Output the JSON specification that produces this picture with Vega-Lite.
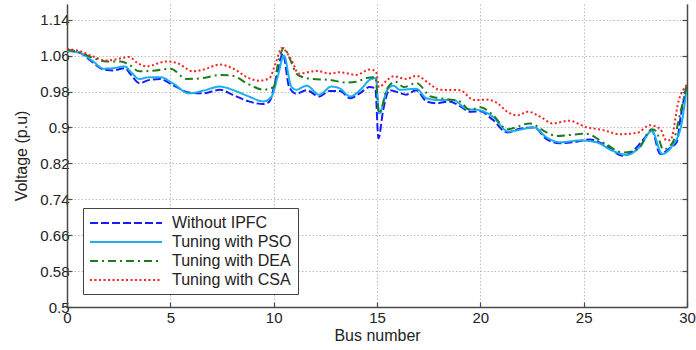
{
  "$schema": "https://vega.github.io/schema/vega-lite/v6.json",
  "width": 620,
  "height": 303,
  "autosize": {"type": "none"},
  "padding": {"left": 67, "top": 4, "right": 9, "bottom": 43},
  "background": "white",
  "config": {
    "font": "Liberation Sans",
    "view": {"stroke": null},
    "axis": {
      "labelFont": "Liberation Sans", "labelFontSize": 15, "labelColor": "#222222",
      "titleFont": "Liberation Sans", "titleFontSize": 16, "titleFontWeight": "normal", "titleColor": "#222222",
      "domainColor": "#4a4a4a", "domainWidth": 1.5, "tickColor": "#4a4a4a", "tickWidth": 1.2,
      "gridColor": "#bdbdbd", "gridDash": [1.5, 2], "gridWidth": 1
    },
    "legend": {
      "labelFont": "Liberation Sans", "labelFontSize": 16, "labelColor": "#222222"
    }
  },
  "data": {"values": [
    {"bus":0,"v":1.072,"s":"Without IPFC"},{"bus":0.63,"v":1.066,"s":"Without IPFC"},{"bus":1.27,"v":1.044,"s":"Without IPFC"},{"bus":1.76,"v":1.029,"s":"Without IPFC"},{"bus":2.24,"v":1.027,"s":"Without IPFC"},{"bus":2.8,"v":1.032,"s":"Without IPFC"},{"bus":3.1,"v":1.017,"s":"Without IPFC"},{"bus":3.5,"v":0.999,"s":"Without IPFC"},{"bus":4.0,"v":1.006,"s":"Without IPFC"},{"bus":4.5,"v":1.008,"s":"Without IPFC"},{"bus":5.1,"v":0.995,"s":"Without IPFC"},{"bus":5.9,"v":0.978,"s":"Without IPFC"},{"bus":6.6,"v":0.976,"s":"Without IPFC"},{"bus":7.4,"v":0.984,"s":"Without IPFC"},{"bus":8.0,"v":0.973,"s":"Without IPFC"},{"bus":8.8,"v":0.958,"s":"Without IPFC"},{"bus":9.5,"v":0.952,"s":"Without IPFC"},{"bus":9.8,"v":0.958,"s":"Without IPFC"},{"bus":10.1,"v":1.006,"s":"Without IPFC"},{"bus":10.45,"v":1.064,"s":"Without IPFC"},{"bus":10.75,"v":0.99,"s":"Without IPFC"},{"bus":11.1,"v":0.975,"s":"Without IPFC"},{"bus":11.6,"v":0.983,"s":"Without IPFC"},{"bus":12.2,"v":0.969,"s":"Without IPFC"},{"bus":12.7,"v":0.981,"s":"Without IPFC"},{"bus":13.2,"v":0.981,"s":"Without IPFC"},{"bus":13.7,"v":0.965,"s":"Without IPFC"},{"bus":14.2,"v":0.977,"s":"Without IPFC"},{"bus":14.65,"v":0.99,"s":"Without IPFC"},{"bus":14.92,"v":0.987,"s":"Without IPFC"},{"bus":15.07,"v":0.876,"s":"Without IPFC"},{"bus":15.3,"v":0.939,"s":"Without IPFC"},{"bus":15.6,"v":0.983,"s":"Without IPFC"},{"bus":16.1,"v":0.977,"s":"Without IPFC"},{"bus":16.4,"v":0.973,"s":"Without IPFC"},{"bus":16.9,"v":0.983,"s":"Without IPFC"},{"bus":17.4,"v":0.958,"s":"Without IPFC"},{"bus":17.9,"v":0.954,"s":"Without IPFC"},{"bus":18.5,"v":0.958,"s":"Without IPFC"},{"bus":19.0,"v":0.948,"s":"Without IPFC"},{"bus":19.5,"v":0.935,"s":"Without IPFC"},{"bus":20.0,"v":0.936,"s":"Without IPFC"},{"bus":20.6,"v":0.917,"s":"Without IPFC"},{"bus":21.3,"v":0.889,"s":"Without IPFC"},{"bus":21.9,"v":0.897,"s":"Without IPFC"},{"bus":22.6,"v":0.9,"s":"Without IPFC"},{"bus":23.2,"v":0.874,"s":"Without IPFC"},{"bus":23.85,"v":0.865,"s":"Without IPFC"},{"bus":24.5,"v":0.867,"s":"Without IPFC"},{"bus":25.3,"v":0.873,"s":"Without IPFC"},{"bus":26.1,"v":0.859,"s":"Without IPFC"},{"bus":26.9,"v":0.837,"s":"Without IPFC"},{"bus":27.4,"v":0.848,"s":"Without IPFC"},{"bus":27.9,"v":0.874,"s":"Without IPFC"},{"bus":28.3,"v":0.893,"s":"Without IPFC"},{"bus":28.7,"v":0.841,"s":"Without IPFC"},{"bus":29.2,"v":0.855,"s":"Without IPFC"},{"bus":29.5,"v":0.867,"s":"Without IPFC"},{"bus":29.7,"v":0.926,"s":"Without IPFC"},{"bus":30,"v":0.997,"s":"Without IPFC"},

    {"bus":0,"v":1.07,"s":"Tuning with PSO"},{"bus":0.63,"v":1.066,"s":"Tuning with PSO"},{"bus":1.27,"v":1.047,"s":"Tuning with PSO"},{"bus":1.76,"v":1.031,"s":"Tuning with PSO"},{"bus":2.24,"v":1.032,"s":"Tuning with PSO"},{"bus":2.8,"v":1.036,"s":"Tuning with PSO"},{"bus":3.1,"v":1.023,"s":"Tuning with PSO"},{"bus":3.5,"v":1.008,"s":"Tuning with PSO"},{"bus":4.0,"v":1.012,"s":"Tuning with PSO"},{"bus":4.5,"v":1.012,"s":"Tuning with PSO"},{"bus":5.1,"v":0.999,"s":"Tuning with PSO"},{"bus":5.9,"v":0.976,"s":"Tuning with PSO"},{"bus":6.6,"v":0.982,"s":"Tuning with PSO"},{"bus":7.4,"v":0.991,"s":"Tuning with PSO"},{"bus":8.0,"v":0.984,"s":"Tuning with PSO"},{"bus":8.8,"v":0.969,"s":"Tuning with PSO"},{"bus":9.5,"v":0.958,"s":"Tuning with PSO"},{"bus":9.9,"v":0.969,"s":"Tuning with PSO"},{"bus":10.2,"v":1.014,"s":"Tuning with PSO"},{"bus":10.5,"v":1.06,"s":"Tuning with PSO"},{"bus":10.85,"v":0.991,"s":"Tuning with PSO"},{"bus":11.1,"v":0.984,"s":"Tuning with PSO"},{"bus":11.6,"v":0.993,"s":"Tuning with PSO"},{"bus":12.2,"v":0.973,"s":"Tuning with PSO"},{"bus":12.8,"v":0.991,"s":"Tuning with PSO"},{"bus":13.2,"v":0.987,"s":"Tuning with PSO"},{"bus":13.7,"v":0.969,"s":"Tuning with PSO"},{"bus":14.2,"v":0.984,"s":"Tuning with PSO"},{"bus":14.65,"v":1.006,"s":"Tuning with PSO"},{"bus":14.95,"v":1.01,"s":"Tuning with PSO"},{"bus":15.1,"v":0.931,"s":"Tuning with PSO"},{"bus":15.5,"v":0.984,"s":"Tuning with PSO"},{"bus":15.8,"v":0.993,"s":"Tuning with PSO"},{"bus":16.1,"v":0.984,"s":"Tuning with PSO"},{"bus":16.9,"v":0.986,"s":"Tuning with PSO"},{"bus":17.4,"v":0.965,"s":"Tuning with PSO"},{"bus":18.0,"v":0.961,"s":"Tuning with PSO"},{"bus":18.7,"v":0.961,"s":"Tuning with PSO"},{"bus":19.3,"v":0.942,"s":"Tuning with PSO"},{"bus":20.0,"v":0.938,"s":"Tuning with PSO"},{"bus":20.6,"v":0.924,"s":"Tuning with PSO"},{"bus":21.35,"v":0.891,"s":"Tuning with PSO"},{"bus":22.6,"v":0.9,"s":"Tuning with PSO"},{"bus":23.2,"v":0.878,"s":"Tuning with PSO"},{"bus":23.85,"v":0.867,"s":"Tuning with PSO"},{"bus":24.8,"v":0.871,"s":"Tuning with PSO"},{"bus":25.6,"v":0.867,"s":"Tuning with PSO"},{"bus":26.4,"v":0.848,"s":"Tuning with PSO"},{"bus":27.1,"v":0.839,"s":"Tuning with PSO"},{"bus":27.7,"v":0.856,"s":"Tuning with PSO"},{"bus":28.3,"v":0.892,"s":"Tuning with PSO"},{"bus":28.8,"v":0.841,"s":"Tuning with PSO"},{"bus":29.3,"v":0.86,"s":"Tuning with PSO"},{"bus":29.7,"v":0.9,"s":"Tuning with PSO"},{"bus":30,"v":0.995,"s":"Tuning with PSO"},

    {"bus":0,"v":1.073,"s":"Tuning with DEA"},{"bus":0.63,"v":1.067,"s":"Tuning with DEA"},{"bus":1.27,"v":1.055,"s":"Tuning with DEA"},{"bus":1.9,"v":1.047,"s":"Tuning with DEA"},{"bus":2.6,"v":1.047,"s":"Tuning with DEA"},{"bus":3.0,"v":1.04,"s":"Tuning with DEA"},{"bus":3.5,"v":1.025,"s":"Tuning with DEA"},{"bus":4.3,"v":1.027,"s":"Tuning with DEA"},{"bus":5.0,"v":1.031,"s":"Tuning with DEA"},{"bus":5.8,"v":1.008,"s":"Tuning with DEA"},{"bus":6.6,"v":1.01,"s":"Tuning with DEA"},{"bus":7.4,"v":1.017,"s":"Tuning with DEA"},{"bus":8.0,"v":1.015,"s":"Tuning with DEA"},{"bus":8.8,"v":0.996,"s":"Tuning with DEA"},{"bus":9.5,"v":0.984,"s":"Tuning with DEA"},{"bus":10.0,"v":0.99,"s":"Tuning with DEA"},{"bus":10.2,"v":1.04,"s":"Tuning with DEA"},{"bus":10.5,"v":1.077,"s":"Tuning with DEA"},{"bus":10.8,"v":1.051,"s":"Tuning with DEA"},{"bus":11.1,"v":1.02,"s":"Tuning with DEA"},{"bus":11.3,"v":1.014,"s":"Tuning with DEA"},{"bus":11.9,"v":1.008,"s":"Tuning with DEA"},{"bus":12.7,"v":1.006,"s":"Tuning with DEA"},{"bus":13.5,"v":1.0,"s":"Tuning with DEA"},{"bus":14.0,"v":1.002,"s":"Tuning with DEA"},{"bus":14.5,"v":1.01,"s":"Tuning with DEA"},{"bus":14.92,"v":1.012,"s":"Tuning with DEA"},{"bus":15.1,"v":0.931,"s":"Tuning with DEA"},{"bus":15.5,"v":0.987,"s":"Tuning with DEA"},{"bus":15.9,"v":1.002,"s":"Tuning with DEA"},{"bus":16.3,"v":0.99,"s":"Tuning with DEA"},{"bus":16.9,"v":0.999,"s":"Tuning with DEA"},{"bus":17.6,"v":0.969,"s":"Tuning with DEA"},{"bus":18.4,"v":0.963,"s":"Tuning with DEA"},{"bus":19.0,"v":0.958,"s":"Tuning with DEA"},{"bus":19.5,"v":0.939,"s":"Tuning with DEA"},{"bus":20.0,"v":0.945,"s":"Tuning with DEA"},{"bus":20.6,"v":0.928,"s":"Tuning with DEA"},{"bus":21.3,"v":0.896,"s":"Tuning with DEA"},{"bus":22.4,"v":0.909,"s":"Tuning with DEA"},{"bus":23.2,"v":0.889,"s":"Tuning with DEA"},{"bus":23.7,"v":0.881,"s":"Tuning with DEA"},{"bus":24.3,"v":0.883,"s":"Tuning with DEA"},{"bus":25.1,"v":0.886,"s":"Tuning with DEA"},{"bus":26.1,"v":0.862,"s":"Tuning with DEA"},{"bus":26.9,"v":0.844,"s":"Tuning with DEA"},{"bus":27.6,"v":0.851,"s":"Tuning with DEA"},{"bus":28.3,"v":0.896,"s":"Tuning with DEA"},{"bus":28.5,"v":0.892,"s":"Tuning with DEA"},{"bus":28.85,"v":0.851,"s":"Tuning with DEA"},{"bus":29.3,"v":0.866,"s":"Tuning with DEA"},{"bus":29.7,"v":0.937,"s":"Tuning with DEA"},{"bus":30,"v":0.995,"s":"Tuning with DEA"},

    {"bus":0,"v":1.075,"s":"Tuning with CSA"},{"bus":0.63,"v":1.07,"s":"Tuning with CSA"},{"bus":1.27,"v":1.058,"s":"Tuning with CSA"},{"bus":1.9,"v":1.049,"s":"Tuning with CSA"},{"bus":2.5,"v":1.053,"s":"Tuning with CSA"},{"bus":3.0,"v":1.057,"s":"Tuning with CSA"},{"bus":3.4,"v":1.044,"s":"Tuning with CSA"},{"bus":3.85,"v":1.036,"s":"Tuning with CSA"},{"bus":4.8,"v":1.047,"s":"Tuning with CSA"},{"bus":5.3,"v":1.044,"s":"Tuning with CSA"},{"bus":6.1,"v":1.025,"s":"Tuning with CSA"},{"bus":6.6,"v":1.029,"s":"Tuning with CSA"},{"bus":7.4,"v":1.04,"s":"Tuning with CSA"},{"bus":8.0,"v":1.032,"s":"Tuning with CSA"},{"bus":8.8,"v":1.01,"s":"Tuning with CSA"},{"bus":9.3,"v":1.004,"s":"Tuning with CSA"},{"bus":9.8,"v":1.01,"s":"Tuning with CSA"},{"bus":10.1,"v":1.044,"s":"Tuning with CSA"},{"bus":10.4,"v":1.077,"s":"Tuning with CSA"},{"bus":10.7,"v":1.062,"s":"Tuning with CSA"},{"bus":10.9,"v":1.047,"s":"Tuning with CSA"},{"bus":11.2,"v":1.02,"s":"Tuning with CSA"},{"bus":12.1,"v":1.026,"s":"Tuning with CSA"},{"bus":12.7,"v":1.02,"s":"Tuning with CSA"},{"bus":13.2,"v":1.023,"s":"Tuning with CSA"},{"bus":14.0,"v":1.017,"s":"Tuning with CSA"},{"bus":14.65,"v":1.029,"s":"Tuning with CSA"},{"bus":14.95,"v":1.025,"s":"Tuning with CSA"},{"bus":15.1,"v":0.99,"s":"Tuning with CSA"},{"bus":15.5,"v":1.006,"s":"Tuning with CSA"},{"bus":15.8,"v":1.014,"s":"Tuning with CSA"},{"bus":16.4,"v":1.008,"s":"Tuning with CSA"},{"bus":16.9,"v":1.015,"s":"Tuning with CSA"},{"bus":17.6,"v":0.995,"s":"Tuning with CSA"},{"bus":18.0,"v":0.984,"s":"Tuning with CSA"},{"bus":19.0,"v":0.983,"s":"Tuning with CSA"},{"bus":19.7,"v":0.961,"s":"Tuning with CSA"},{"bus":20.3,"v":0.962,"s":"Tuning with CSA"},{"bus":20.8,"v":0.955,"s":"Tuning with CSA"},{"bus":21.3,"v":0.935,"s":"Tuning with CSA"},{"bus":21.8,"v":0.927,"s":"Tuning with CSA"},{"bus":22.3,"v":0.935,"s":"Tuning with CSA"},{"bus":22.9,"v":0.924,"s":"Tuning with CSA"},{"bus":23.5,"v":0.909,"s":"Tuning with CSA"},{"bus":24.3,"v":0.915,"s":"Tuning with CSA"},{"bus":25.1,"v":0.901,"s":"Tuning with CSA"},{"bus":25.95,"v":0.894,"s":"Tuning with CSA"},{"bus":26.75,"v":0.885,"s":"Tuning with CSA"},{"bus":27.6,"v":0.888,"s":"Tuning with CSA"},{"bus":28.2,"v":0.905,"s":"Tuning with CSA"},{"bus":28.7,"v":0.897,"s":"Tuning with CSA"},{"bus":29.0,"v":0.871,"s":"Tuning with CSA"},{"bus":29.2,"v":0.872,"s":"Tuning with CSA"},{"bus":29.6,"v":0.96,"s":"Tuning with CSA"},{"bus":30,"v":0.995,"s":"Tuning with CSA"}
  ]},
  "resolve": {"axis": {"y": "independent"}},
  "layer": [
    {
      "mark": {"type": "line", "interpolate": "monotone", "strokeWidth": 2, "clip": true},
      "encoding": {
        "x": {"field": "bus", "type": "quantitative", "title": "Bus number",
              "scale": {"domain": [0, 30], "nice": false},
              "axis": {"values": [0,5,10,15,20,25,30], "tickSize": -5, "labelPadding": 8, "titlePadding": 2, "grid": true, "labelFlush": false}},
        "y": {"field": "v", "type": "quantitative", "title": "Voltage (p.u)",
              "scale": {"domain": [0.5, 1.175], "nice": false, "zero": false},
              "axis": {"values": [0.5,0.58,0.66,0.74,0.82,0.9,0.98,1.06,1.14], "labelExpr": "'' + datum.value", "tickSize": -5, "labelPadding": 3, "titlePadding": 10, "grid": true}},
        "color": {"field": "s", "type": "nominal", "title": null,
          "scale": {"domain": ["Without IPFC","Tuning with PSO","Tuning with DEA","Tuning with CSA"],
                    "range": ["#1a1aff","#1ab0f0","#1e7a1e","#ff2020"]},
          "legend": {"orient": "none", "legendX": 16, "legendY": 204, "fillColor": "white", "strokeColor": "#444444",
                     "padding": 6, "symbolType": "M-4.5,0H4.5", "symbolSize": 256, "symbolStrokeWidth": 2, "symbolOffset": 28, "labelOffset": 37, "rowPadding": 2}},
        "strokeDash": {"field": "s", "type": "nominal", "title": null,
          "scale": {"domain": ["Without IPFC","Tuning with PSO","Tuning with DEA","Tuning with CSA"],
                    "range": [[8,3],[1,0],[8,4,2,4],[2,2.5]]},
          "legend": {"orient": "none", "legendX": 16, "legendY": 204, "fillColor": "white", "strokeColor": "#444444",
                     "padding": 6, "symbolType": "M-4.5,0H4.5", "symbolSize": 256, "symbolStrokeWidth": 2, "symbolOffset": 28, "labelOffset": 37, "rowPadding": 2}}
      }
    },
    {
      "mark": {"type": "line", "opacity": 0},
      "encoding": {
        "x": {"field": "bus", "type": "quantitative"},
        "y": {"field": "v", "type": "quantitative",
              "axis": {"orient": "right", "values": [0.5,0.58,0.66,0.74,0.82,0.9,0.98,1.06,1.14], "labels": false, "title": null, "tickSize": -5, "grid": false}},
        "detail": {"field": "s"}
      }
    }
  ]
}
